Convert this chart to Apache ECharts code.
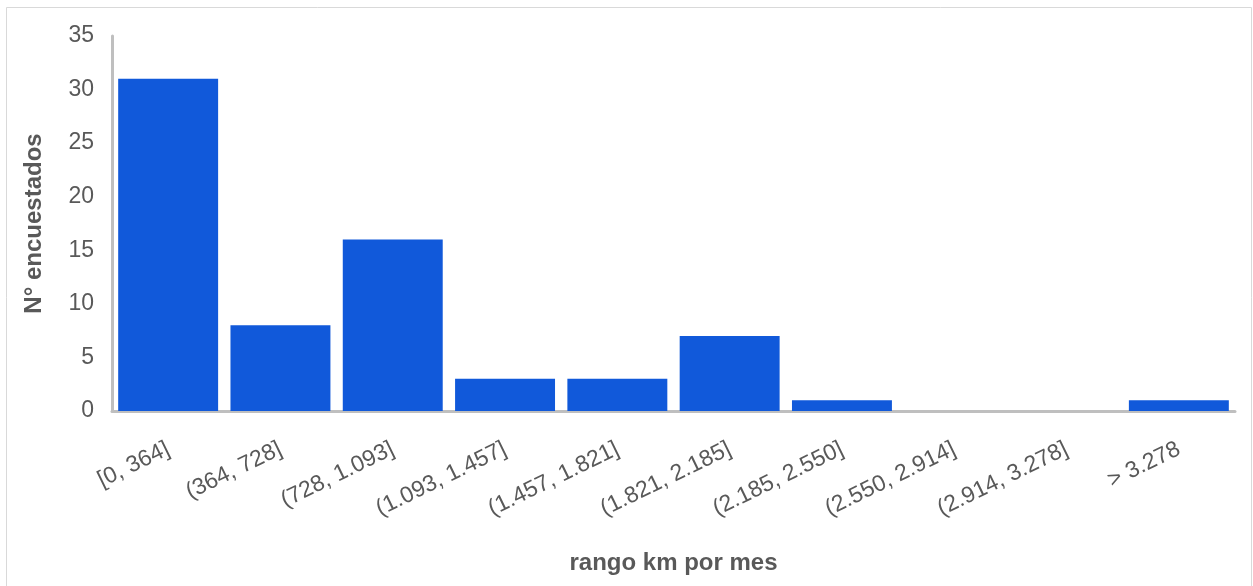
<!DOCTYPE html>
<html>
<head>
<meta charset="utf-8">
<script src="https://cdn.jsdelivr.net/npm/echarts@6/dist/echarts.min.js"></script>
<style>
  html, body { margin: 0; padding: 0; background: #ffffff; }
  #chart { width: 1253px; height: 586px; }
</style>
</head>
<body>
<div id="chart"></div>
<script>
// Distance ranges (km per month) and number of respondents in each
const categories = ['[0, 364]', '(364, 728]', '(728, 1.093]', '(1.093, 1.457]', '(1.457, 1.821]',
  '(1.821, 2.185]', '(2.185, 2.550]', '(2.550, 2.914]', '(2.914, 3.278]', '> 3.278'];
const respondents = [31, 8, 16, 3, 3, 7, 1, 0, 0, 1];
const yTicks = { min: 0, max: 35, interval: 5 };

const textColor = '#595959';
const font = '"Liberation Sans", Arial, sans-serif';

const chart = echarts.init(document.getElementById('chart'), null, { renderer: 'canvas' });
chart.setOption({
  backgroundColor: '#ffffff',
  animation: false,
  graphic: [{
    type: 'rect',
    shape: { x: 6.5, y: 7.5, width: 1245, height: 600 },
    style: { fill: 'none', stroke: '#d9d9d9', lineWidth: 1 },
    silent: true
  }],
  grid: { left: 112, right: 18, top: 36, bottom: 175, containLabel: false },
  xAxis: {
    type: 'category',
    data: categories,
    name: 'rango km por mes',
    nameLocation: 'middle',
    nameGap: 140,
    nameTextStyle: { color: textColor, fontSize: 24, fontWeight: 'bold', fontFamily: font },
    axisLine: { lineStyle: { color: '#bfbfbf', width: 3 } },
    axisTick: { show: false },
    axisLabel: { rotate: 26, color: textColor, fontSize: 23, fontFamily: font, margin: 37, interval: 0 }
  },
  yAxis: {
    type: 'value',
    min: yTicks.min,
    max: yTicks.max,
    interval: yTicks.interval,
    name: 'N° encuestados',
    nameLocation: 'middle',
    nameGap: 66,
    nameTextStyle: { color: textColor, fontSize: 24, fontWeight: 'bold', fontFamily: font },
    axisLine: { show: true, lineStyle: { color: '#bfbfbf', width: 3 } },
    axisTick: { show: false },
    splitLine: { show: false },
    axisLabel: { color: textColor, fontSize: 23, fontFamily: font, margin: 18 }
  },
  series: [{
    type: 'bar',
    data: respondents,
    barCategoryGap: '11%',
    itemStyle: { color: '#1159da' }
  }]
});
</script>
</body>
</html>
